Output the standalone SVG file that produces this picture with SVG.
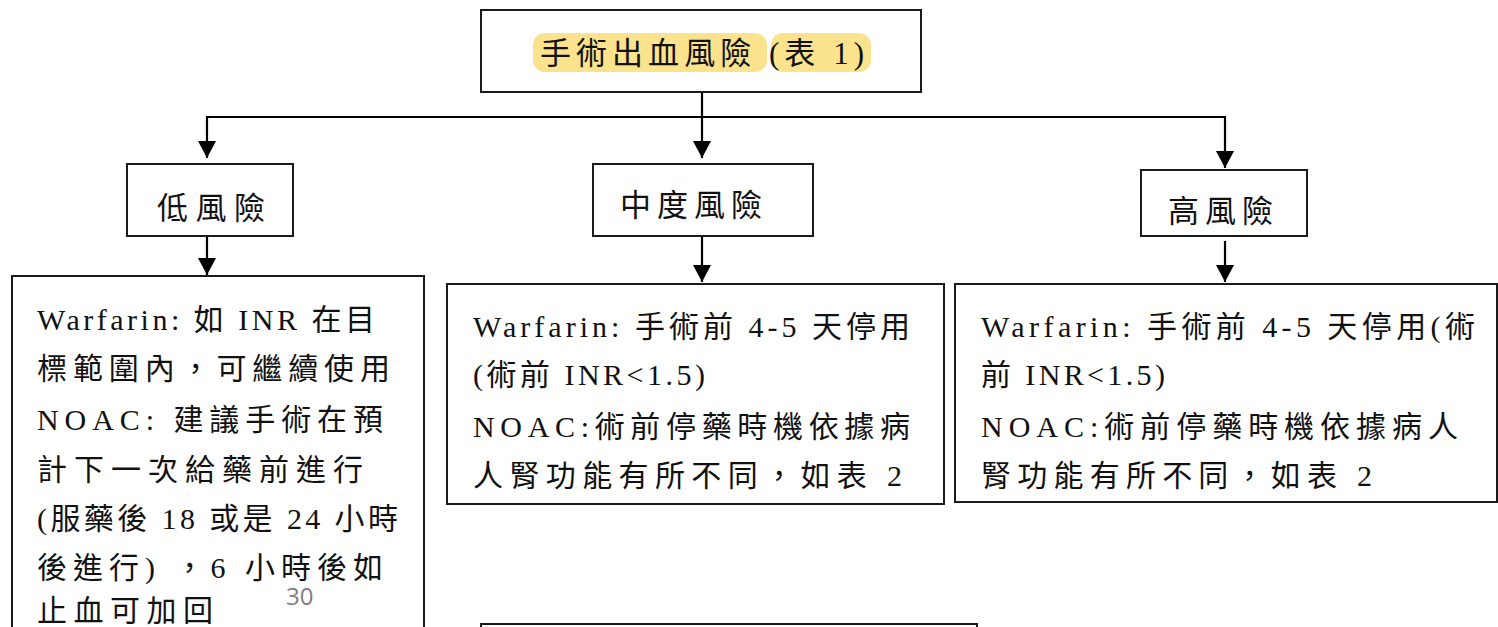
<svg xmlns="http://www.w3.org/2000/svg" width="1498" height="627" viewBox="0 0 1498 627">
<style>
.box{fill:#fff;stroke:#1a1a1a;stroke-width:2}
.t{font-family:"Liberation Serif","Noto Sans CJK TC",serif;font-size:30px;fill:#111}
.h{font-family:"Liberation Serif","Noto Sans CJK TC",serif;font-size:31px;fill:#111}
.c{stroke:#000;stroke-width:2.2;fill:none}
.pg{font-family:"Open Sans","DejaVu Sans",sans-serif;font-size:24px;fill:#808080}
</style>
<defs>
<marker id="ah" markerUnits="userSpaceOnUse" markerWidth="20" markerHeight="18" refX="17" refY="9" orient="auto">
<path d="M0,0 L17,9 L0,18 Z" fill="#000"/>
</marker>
</defs>
<rect width="1498" height="627" fill="#fff"/>
<g id="connectors">
<polyline class="c" points="207,117 1225,117"/>
<line class="c" x1="702" y1="92" x2="702" y2="158" marker-end="url(#ah)"/>
<line class="c" x1="207" y1="116" x2="207" y2="158" marker-end="url(#ah)"/>
<line class="c" x1="1225" y1="116" x2="1225" y2="168" marker-end="url(#ah)"/>
<line class="c" x1="207" y1="236" x2="207" y2="275" marker-end="url(#ah)"/>
<line class="c" x1="702" y1="236" x2="702" y2="282" marker-end="url(#ah)"/>
<line class="c" x1="1225" y1="241" x2="1225" y2="282" marker-end="url(#ah)"/>
</g>
<g id="title">
<rect class="box" x="481" y="10" width="440" height="82"/>
<rect x="533" y="33" width="234" height="39" rx="12" fill="#fbe38e"/>
<rect x="771" y="33" width="100" height="39" rx="12" fill="#fbe38e"/>
<text class="h" x="540" y="64" textLength="324" lengthAdjust="spacing">手術出血風險 (表 1)</text>
</g>
<g id="low">
<rect class="box" x="127" y="164" width="166" height="72"/>
<text class="h" x="157" y="219" textLength="108" lengthAdjust="spacing">低風險</text>
</g>
<g id="mid">
<rect class="box" x="593" y="164" width="220" height="72"/>
<text class="h" x="620" y="216" textLength="142" lengthAdjust="spacing">中度風險</text>
</g>
<g id="high">
<rect class="box" x="1141" y="170" width="166" height="66"/>
<text class="h" x="1168" y="222" textLength="105" lengthAdjust="spacing">高風險</text>
</g>
<g id="low-detail">
<rect class="box" x="12" y="276" width="412" height="370"/>
<text class="t" x="37" y="330" textLength="338" lengthAdjust="spacing">Warfarin: 如 INR 在目</text>
<text class="t" x="37" y="379" textLength="353" lengthAdjust="spacing">標範圍內，可繼續使用</text>
<text class="t" x="37" y="430" textLength="346" lengthAdjust="spacing">NOAC: 建議手術在預</text>
<text class="t" x="37" y="480" textLength="326" lengthAdjust="spacing">計下一次給藥前進行</text>
<text class="t" x="37" y="529" textLength="361" lengthAdjust="spacing">(服藥後 18 或是 24 小時</text>
<text class="t" x="37" y="578" textLength="346" lengthAdjust="spacing">後進行) ，6 小時後如</text>
<text class="t" x="37" y="621" textLength="176" lengthAdjust="spacing">止血可加回</text>
</g>
<g id="mid-detail">
<rect class="box" x="447" y="284" width="497" height="220"/>
<text class="t" x="473" y="337" textLength="437" lengthAdjust="spacing">Warfarin: 手術前 4-5 天停用</text>
<text class="t" x="473" y="385" textLength="232" lengthAdjust="spacing">(術前 INR&lt;1.5)</text>
<text class="t" x="473" y="437" textLength="437" lengthAdjust="spacing">NOAC:術前停藥時機依據病</text>
<text class="t" x="473" y="486" textLength="429" lengthAdjust="spacing">人腎功能有所不同，如表 2</text>
</g>
<g id="high-detail">
<rect class="box" x="955" y="284" width="542" height="218"/>
<text class="t" x="981" y="337" textLength="494" lengthAdjust="spacing">Warfarin: 手術前 4-5 天停用(術</text>
<text class="t" x="981" y="385" textLength="184" lengthAdjust="spacing">前 INR&lt;1.5)</text>
<text class="t" x="981" y="437" textLength="477" lengthAdjust="spacing">NOAC:術前停藥時機依據病人</text>
<text class="t" x="981" y="486" textLength="391" lengthAdjust="spacing">腎功能有所不同，如表 2</text>
</g>
<g id="bottom">
<rect class="box" x="481" y="624" width="496" height="40"/>
</g>
<text class="pg" x="286" y="605">30</text>
</svg>
